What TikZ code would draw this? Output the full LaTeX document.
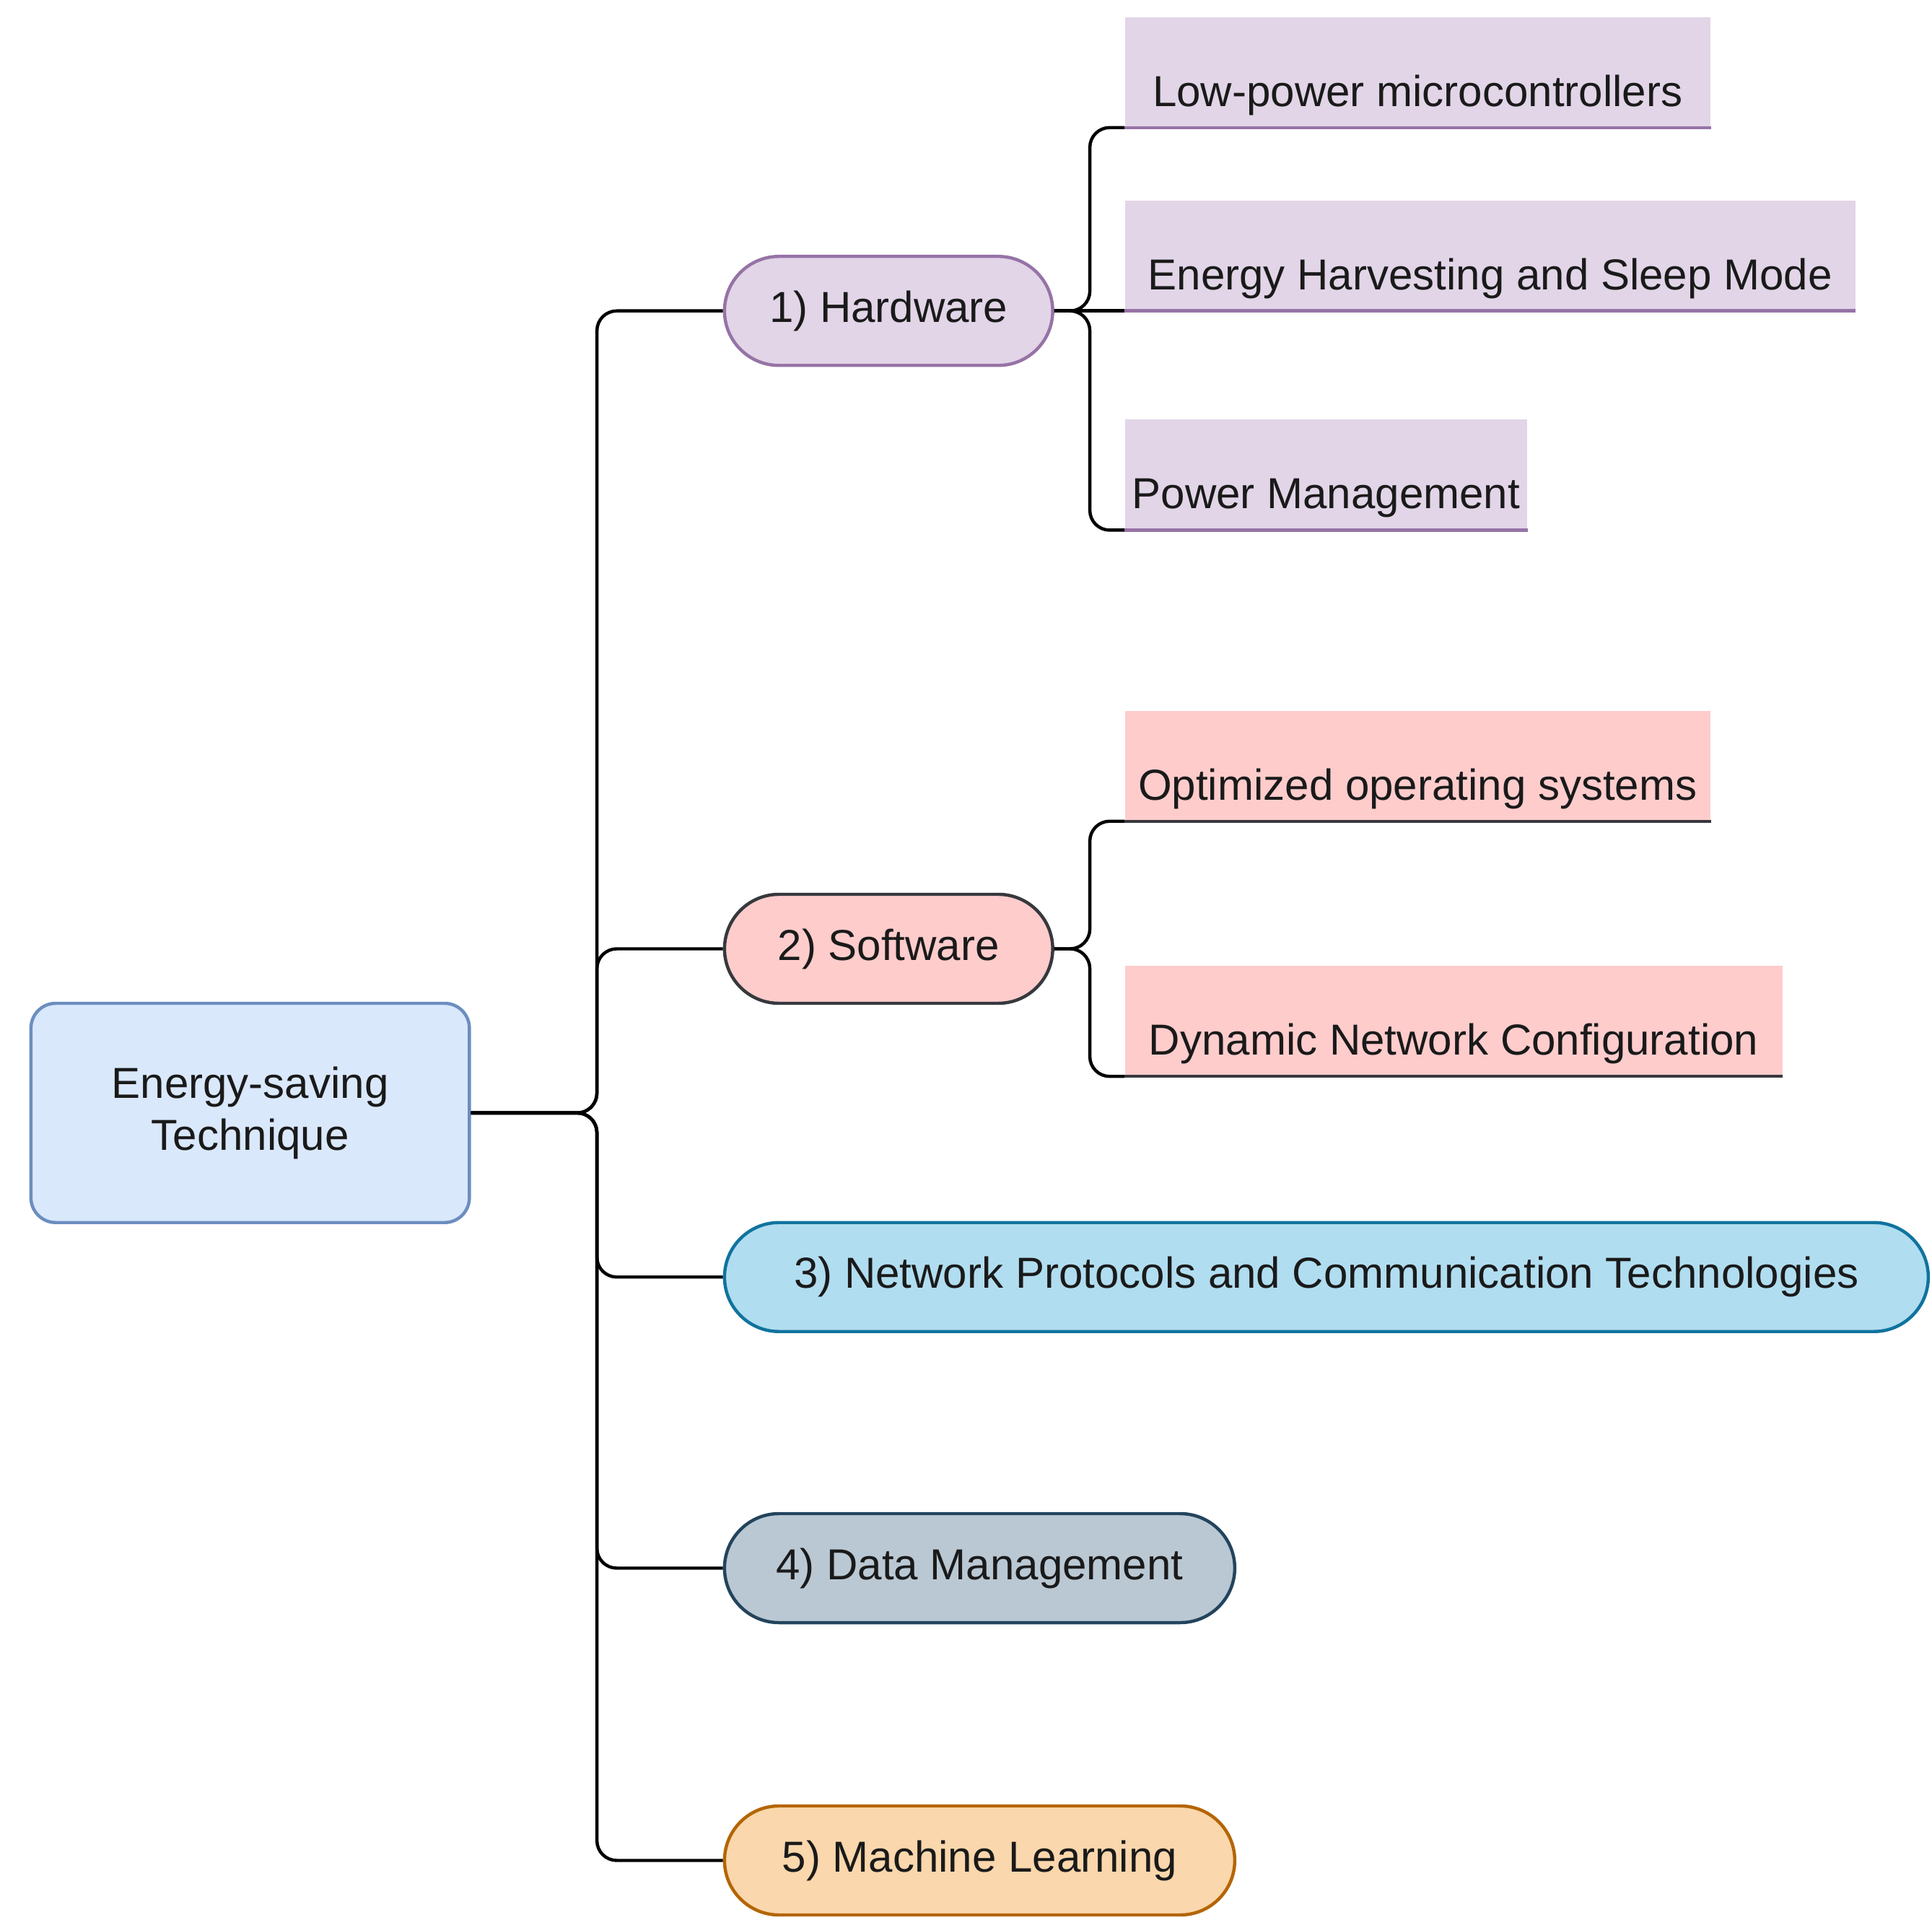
\documentclass[tikz,border=0pt]{standalone}
\usepackage{fontspec}
\setmainfont{Liberation Sans}
\definecolor{rootF}{HTML}{DAE8FC}\definecolor{rootS}{HTML}{6C8EBF}
\definecolor{hwF}{HTML}{E1D5E7}\definecolor{hwS}{HTML}{9673A6}
\definecolor{swF}{HTML}{FFCCCC}\definecolor{swS}{HTML}{36393D}
\definecolor{netF}{HTML}{B1DDF0}\definecolor{netS}{HTML}{10739E}
\definecolor{dataF}{HTML}{BAC8D3}\definecolor{dataS}{HTML}{23445D}
\definecolor{mlF}{HTML}{FAD7AC}\definecolor{mlS}{HTML}{B46504}
\definecolor{txtC}{HTML}{1A1A1A}
\begin{document}
\begin{tikzpicture}[x=1pt,y=-1pt,
  txt/.style={font=\fontsize{35}{42}\selectfont, text=txtC},
  pill/.style={txt, draw, line width=2.6pt, rounded corners=44pt, minimum height=88pt, inner sep=0pt},
  leaf/.style={txt, inner xsep=0pt, inner ysep=0pt, minimum height=89pt, text height=72pt, text depth=17pt, anchor=south west},
  conn/.style={line width=2.6pt, rounded corners=16pt, black},
  uline/.style={line width=2.6pt},
]
\useasboundingbox (0,0) rectangle (1560,1549.6);
% root
\node[txt, draw=rootS, fill=rootF, line width=2.6pt, rounded corners=20pt, minimum width=354pt, minimum height=177pt, align=center] (root) at (202,898.5) {Energy-saving\\Technique};
% branches
\node[pill, fill=hwF, draw=hwS, minimum width=265pt] (hw) at (717.5,251) {1) Hardware};
\node[pill, fill=swF, draw=swS, minimum width=265pt] (sw) at (717.5,766) {2) Software};
\node[pill, fill=netF, draw=netS, minimum width=972pt] (net) at (1071,1031) {3) Network Protocols and Communication Technologies};
\node[pill, fill=dataF, draw=dataS, minimum width=412pt] (data) at (791,1266) {4) Data Management};
\node[pill, fill=mlF, draw=mlS, minimum width=412pt] (ml) at (791,1502) {5) Machine Learning};
% leaves
\node[leaf, fill=hwF, minimum width=473pt] (l1) at (908,103) {Low-power microcontrollers};
\node[leaf, fill=hwF, minimum width=590pt] (l2) at (908,251) {Energy Harvesting and Sleep Mode};
\node[leaf, fill=hwF, minimum width=325pt] (l3) at (908,428) {Power Management};
\node[leaf, fill=swF, minimum width=473pt] (l4) at (908,663) {Optimized operating systems};
\node[leaf, fill=swF, minimum width=531pt] (l5) at (908,869) {Dynamic Network Configuration};
\foreach \l in {l1,l2,l3} \draw[uline, hwS] (\l.south west) -- (\l.south east);
\foreach \l in {l4,l5} \draw[uline, swS] (\l.south west) -- (\l.south east);
% connectors
\coordinate (rj) at (482,898.5);
\foreach \c in {hw,sw,net,data,ml} \draw[conn] (root.east) -- (rj) |- (\c.west);
\coordinate (hj) at (880,251);
\foreach \c in {l1,l3} \draw[conn] (hw.east) -- (hj) |- (\c.south west);
\draw[conn] (hw.east) -- (l2.south west);
\coordinate (sj) at (880,766);
\foreach \c in {l4,l5} \draw[conn] (sw.east) -- (sj) |- (\c.south west);
\end{tikzpicture}
\end{document}
